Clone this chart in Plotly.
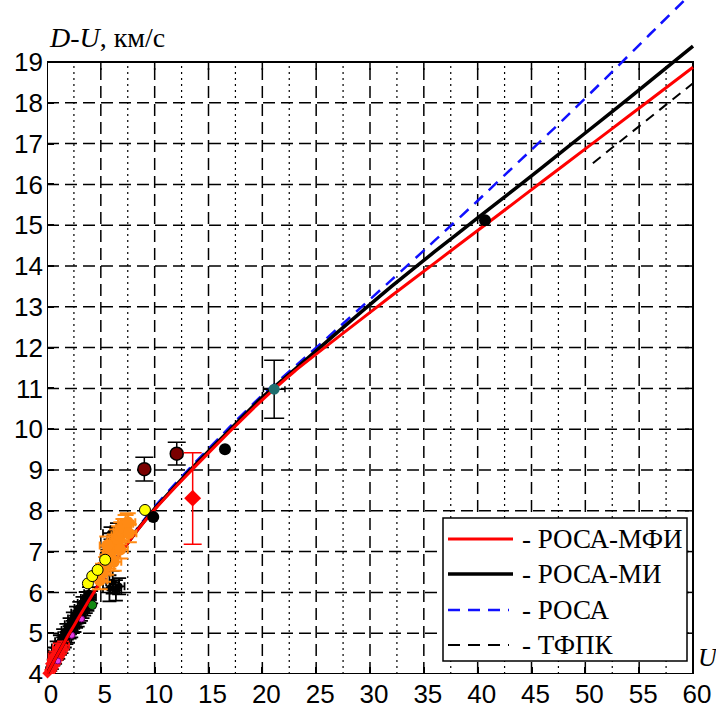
import plotly.graph_objects as go

# ---------------- model curves: D-U (km/s) versus U (km/s) ----------------
u_curve = [0, 1, 2, 3, 4, 5, 6, 7, 8.5, 10, 12, 14, 17, 20, 23, 27, 32, 36, 40, 44, 48, 52, 56, 60]
rosa_mfi = [4.00, 4.49, 4.96, 5.41, 5.85, 6.28, 6.67, 7.03, 7.56, 8.03, 8.60, 9.15, 9.95, 10.72,
            11.42, 12.25, 13.27, 14.07, 14.87, 15.67, 16.47, 17.27, 18.07, 18.87]
rosa_mi = [4.00, 4.49, 4.96, 5.41, 5.85, 6.28, 6.67, 7.03, 7.57, 8.05, 8.63, 9.19, 9.99, 10.78,
           11.46, 12.38, 13.50, 14.35, 15.18, 16.00, 16.84, 17.68, 18.53, 19.39]
rosa = [4.00, 4.50, 4.98, 5.43, 5.87, 6.30, 6.70, 7.07, 7.61, 8.10, 8.69, 9.25, 10.06, 10.84,
        11.53, 12.47, 13.66, 14.62, 15.60, 16.60, 17.60, 18.63, 19.68, 20.72]
u_tfpk = [50.7, 55, 60]
tfpk = [16.52, 17.43, 18.48]

curve_names = ["- РОСА-МФИ", "- РОСА-МИ", "- РОСА", "- ТФПК"]

# ---------------- experimental points ----------------
# dense low-velocity set (black, with error bars)
blk_u = [0.15, 0.3, 0.45, 0.6, 0.75, 0.9, 1.05, 1.2, 1.35, 1.5, 1.65, 1.8, 1.95, 2.1, 2.25, 2.4,
         2.55, 2.7, 2.85, 3.0, 3.15, 3.3, 3.45, 3.6, 3.75, 3.9, 4.1,
         0.3, 0.6, 0.9, 1.2, 1.5, 1.8, 2.1, 2.4, 2.7, 3.0, 3.3, 3.6, 3.9,
         5.9, 6.2, 6.5, 5.8, 6.1, 6.4, 6.7, 5.6]
blk_y = [4.14, 4.22, 4.27, 4.36, 4.40, 4.49, 4.52, 4.62, 4.66, 4.75, 4.80, 4.88, 4.92, 5.02, 5.05, 5.15,
         5.18, 5.28, 5.31, 5.40, 5.45, 5.52, 5.58, 5.64, 5.70, 5.78, 5.88,
         4.35, 4.50, 4.65, 4.80, 4.95, 5.08, 5.22, 5.36, 5.50, 5.62, 5.74, 5.86, 5.98,
         7.45, 7.30, 7.55, 6.10, 6.25, 6.05, 6.15, 6.90]
blk_ex = [0.45] * 40 + [0.7, 0.6, 0.6, 0.6, 0.6, 0.5, 0.5, 0.6]
blk_ey = [0.15] * 40 + [0.15, 0.15, 0.15, 0.32, 0.28, 0.25, 0.2, 0.15]

# red low-velocity set
red_u = [0.05, 0.2, 0.35, 0.5, 0.65, 0.8, 0.95, 1.1, 1.3, 1.5, 0.3, 0.7, 1.1]
red_y = [4.02, 4.10, 4.17, 4.25, 4.30, 4.38, 4.45, 4.52, 4.60, 4.70, 4.25, 4.45, 4.65]

# magenta and green points
mag_u = [1.0, 2.3, 3.2, 5.2]
mag_y = [4.32, 4.95, 5.35, 6.30]
grn_u = [0.05, 4.2]
grn_y = [3.98, 5.69]

# orange set with error bars
org_u = [4.9, 5.2, 5.5, 5.7, 5.9, 6.1, 6.3, 6.5, 6.7, 6.9, 7.1, 7.3, 7.5, 6.2, 5.6, 6.8, 7.6]
org_y = [6.30, 6.48, 6.65, 6.80, 6.95, 7.05, 7.20, 7.32, 7.40, 7.50, 7.58, 7.68, 7.72, 6.75, 7.15, 7.05, 7.45]

# yellow points
yel_u = [3.8, 4.2, 4.7, 5.4, 9.1]
yel_y = [6.22, 6.40, 6.55, 6.80, 8.02]

# isolated black points
dot_u = [9.87, 16.53, 40.68]
dot_y = [7.85, 9.51, 15.12]

# dark-red points with error bars
mar_u = [9.04, 12.05]
mar_y = [9.02, 9.40]
mar_e = [0.29, 0.28]

# red diamond with asymmetric error bar
dia_u = [13.53]
dia_y = [8.31]
dia_up = [1.11]
dia_dn = [1.13]

# teal point with error bars
tea_u = [21.1]
tea_y = [10.98]
tea_ey = [0.71]
tea_ex = [1.0]

x_ticks = list(range(0, 61, 5))
y_ticks = list(range(4, 20))

# ---------------- geometry of the page ----------------
W, H = 716, 709
ML, MR, MT, MB = 47, 0, 0, 35
PX_PER_U = 646 / 60.0
PX_PER_Y = 612 / 15.0
X_RANGE = [0, (W - ML - MR) / PX_PER_U]
Y_RANGE = [4, 4 + (H - MT - MB) / PX_PER_Y]


def paper_x(px):
    return (px - ML) / (W - ML - MR)


def paper_y(py):
    return 1 - (py - MT) / (H - MT - MB)


fig = go.Figure()

# black cluster
fig.add_trace(go.Scatter(
    x=blk_u, y=blk_y, mode="markers", cliponaxis=False,
    marker=dict(color="black", size=7, symbol="circle"),
    error_x=dict(type="data", array=blk_ex, color="black", thickness=1.8, width=4),
    error_y=dict(type="data", array=blk_ey, color="black", thickness=1.8, width=7),
))
# red cluster
fig.add_trace(go.Scatter(
    x=red_u, y=red_y, mode="markers", cliponaxis=False,
    marker=dict(color="#ff1010", size=8, symbol="diamond"),
    error_x=dict(type="constant", value=0.55, color="#ff1010", thickness=1.8, width=3),
    error_y=dict(type="constant", value=0.1, color="#ff1010", thickness=1.8, width=6),
))
fig.add_trace(go.Scatter(
    x=mag_u, y=mag_y, mode="markers", cliponaxis=False,
    marker=dict(color="#e23be2", size=6, line=dict(color="#800080", width=1)),
))
fig.add_trace(go.Scatter(
    x=grn_u, y=grn_y, mode="markers", cliponaxis=False,
    marker=dict(color="#128a12", size=9, line=dict(color="black", width=1)),
))

# model curves
fig.add_trace(go.Scatter(x=u_tfpk, y=tfpk, mode="lines",
                         line=dict(color="black", width=2, dash="10px,7px")))
fig.add_trace(go.Scatter(x=u_curve, y=rosa, mode="lines",
                         line=dict(color="#1010ff", width=2.5, dash="12px,8px", shape="spline", smoothing=0.5)))
fig.add_trace(go.Scatter(x=u_curve, y=rosa_mi, mode="lines",
                         line=dict(color="black", width=3.5, shape="spline", smoothing=0.5)))
fig.add_trace(go.Scatter(x=u_curve, y=rosa_mfi, mode="lines",
                         line=dict(color="#ff0000", width=3, shape="spline", smoothing=0.5)))

# points drawn over the curves
fig.add_trace(go.Scatter(
    x=org_u, y=org_y, mode="markers", cliponaxis=False,
    marker=dict(color="#ff8a14", size=12),
    error_x=dict(type="constant", value=0.7, color="#ff8a14", thickness=2, width=4),
    error_y=dict(type="constant", value=0.22, color="#ff8a14", thickness=2, width=8),
))
fig.add_trace(go.Scatter(
    x=yel_u, y=yel_y, mode="markers", cliponaxis=False,
    marker=dict(color="#ffff00", size=11, line=dict(color="black", width=1)),
))
fig.add_trace(go.Scatter(
    x=dot_u, y=dot_y, mode="markers", cliponaxis=False,
    marker=dict(color="black", size=12),
))
fig.add_trace(go.Scatter(
    x=mar_u, y=mar_y, mode="markers", cliponaxis=False,
    marker=dict(color="#7a0000", size=13, line=dict(color="black", width=1.5)),
    error_y=dict(type="data", array=mar_e, color="black", thickness=1.5, width=9),
))
fig.add_trace(go.Scatter(
    x=dia_u, y=dia_y, mode="markers", cliponaxis=False,
    marker=dict(color="#ff0000", size=13, symbol="diamond"),
    error_y=dict(type="data", symmetric=False, array=dia_up, arrayminus=dia_dn,
                 color="#ff0000", thickness=1.5, width=9),
    error_x=dict(type="constant", value=0.35, color="#ff0000", thickness=1.5, width=3),
))
fig.add_trace(go.Scatter(
    x=tea_u, y=tea_y, mode="markers", cliponaxis=False,
    marker=dict(color="#1f6f6f", size=11),
    error_y=dict(type="data", array=tea_ey, color="black", thickness=1.5, width=10),
    error_x=dict(type="data", array=tea_ex, color="black", thickness=1.5, width=3),
))

# ---------------- grid, frame and ticks ----------------
shapes = []
for xv in x_ticks[1:-1]:
    shapes.append(dict(type="line", xref="x", yref="y", x0=xv, x1=xv, y0=4, y1=19,
                       line=dict(color="black", width=1.5, dash="12px,6px"), layer="below"))
for k in range(len(x_ticks) - 1):
    xm = (x_ticks[k] + x_ticks[k + 1]) / 2
    shapes.append(dict(type="line", xref="x", yref="y", x0=xm, x1=xm, y0=4, y1=19,
                       line=dict(color="black", width=1.2, dash="2px,4px"), layer="below"))
for yv in y_ticks[1:-1]:
    shapes.append(dict(type="line", xref="x", yref="y", x0=0, x1=60, y0=yv, y1=yv,
                       line=dict(color="black", width=1.5, dash="12px,6px"), layer="below"))
# ticks on the top and right edges of the frame
for xv in x_ticks[1:-1]:
    shapes.append(dict(type="line", xref="x", yref="y", x0=xv, x1=xv, y0=19, y1=19 - 8 / PX_PER_Y,
                       line=dict(color="black", width=1.5), layer="below"))
for yv in y_ticks[1:-1]:
    shapes.append(dict(type="line", xref="x", yref="y", x0=60, x1=60 - 8 / PX_PER_U, y0=yv, y1=yv,
                       line=dict(color="black", width=1.5), layer="below"))
shapes.append(dict(type="rect", xref="x", yref="y", x0=0, x1=60, y0=4, y1=19,
                   line=dict(color="black", width=2), layer="below"))

# ---------------- legend box ----------------
leg_l, leg_t, leg_r, leg_b = 443, 518, 687, 661
shapes.append(dict(type="rect", xref="paper", yref="paper",
                   x0=paper_x(leg_l), x1=paper_x(leg_r), y0=paper_y(leg_b), y1=paper_y(leg_t),
                   fillcolor="white", line=dict(color="black", width=1.5), layer="above"))
leg_rows = [539, 574, 610, 645]
leg_styles = [
    dict(color="#ff0000", width=3, dash="solid", x1=513),
    dict(color="black", width=3.5, dash="solid", x1=513),
    dict(color="#1010ff", width=2.5, dash="12px,8px", x1=509),
    dict(color="black", width=2, dash="12px,8px", x1=509),
]
annotations = []
for row, st, name in zip(leg_rows, leg_styles, curve_names):
    shapes.append(dict(type="line", xref="paper", yref="paper",
                       x0=paper_x(448), x1=paper_x(st["x1"]), y0=paper_y(row), y1=paper_y(row),
                       line=dict(color=st["color"], width=st["width"], dash=st["dash"]), layer="above"))
    annotations.append(dict(xref="paper", yref="paper", x=paper_x(520), y=paper_y(row),
                            xanchor="left", yanchor="middle", showarrow=False, text=name,
                            font=dict(family="Liberation Serif, Times New Roman, serif", size=27,
                                      color="black")))

# axis titles
annotations.append(dict(xref="paper", yref="paper", x=paper_x(47), y=paper_y(38),
                        xanchor="left", yanchor="middle", showarrow=False,
                        text="<i>D-U</i>, км/с",
                        font=dict(family="Liberation Serif, Times New Roman, serif", size=28,
                                  color="black")))
annotations.append(dict(xref="paper", yref="paper", x=paper_x(696), y=paper_y(657),
                        xanchor="left", yanchor="middle", showarrow=False,
                        text="<i>U</i>",
                        font=dict(family="Liberation Serif, Times New Roman, serif", size=26,
                                  color="black")))

tick_font = dict(family="Liberation Sans, Arial, sans-serif", size=26, color="black")

fig.update_layout(
    width=W, height=H,
    margin=dict(l=ML, r=MR, t=MT, b=MB, pad=0),
    plot_bgcolor="white", paper_bgcolor="white",
    showlegend=False,
    shapes=shapes, annotations=annotations,
)
fig.update_xaxes(range=X_RANGE, tickvals=x_ticks, ticktext=[str(v) for v in x_ticks],
                 ticks="inside", ticklen=7, tickwidth=1.5, tickcolor="black",
                 showgrid=False, zeroline=False, showline=False,
                 tickfont=tick_font, ticklabelshift=4, ticklabelstandoff=2)
fig.update_yaxes(range=Y_RANGE, tickvals=y_ticks, ticktext=[str(v) for v in y_ticks],
                 ticks="inside", ticklen=7, tickwidth=1.5, tickcolor="black",
                 showgrid=False, zeroline=False, showline=False,
                 tickfont=tick_font, ticklabelstandoff=3)

fig.write_html("out.html")
